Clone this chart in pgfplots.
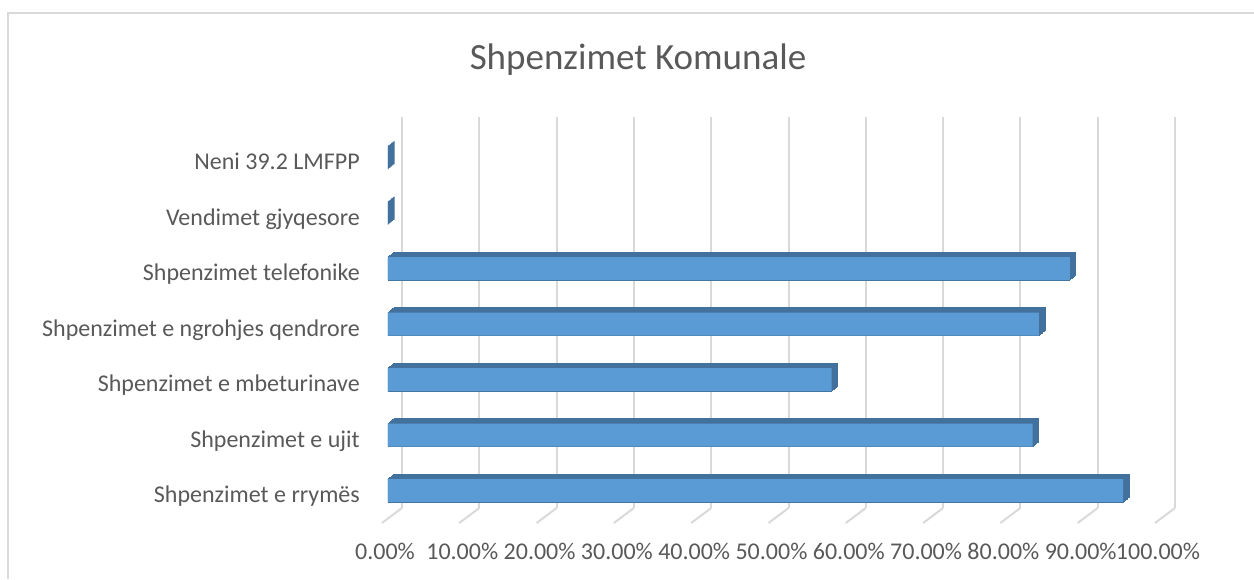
\documentclass[border=0pt]{standalone}
\usepackage{pgfplots}
\pgfplotsset{compat=1.18}
\usepackage{pgfplotstable}
\usepackage{fontspec}
\setmainfont{Carlito}
\definecolor{barfront}{HTML}{5B9BD5}
\definecolor{bardepth}{HTML}{41719C}
\definecolor{gridc}{HTML}{D9D9D9}
\definecolor{txt}{HTML}{595959}

\pgfplotstableread{
pos value
0 95.1
1 83.4
2 57.4
3 84.2
4 88.2
5 0
6 0
}\datatable

\begin{document}
\begin{tikzpicture}[x=1pt,y=1pt]
\path[use as bounding box] (0,0) rectangle (1254,579);
\draw[gridc, line width=2pt] (8,0) -- (8,566) -- (1254,566);
\node[font=\fontsize{37}{44}\selectfont, text=txt, anchor=base] at (638,509) {Shpenzimet Komunale};
\begin{axis}[
  at={(388pt,60.5pt)}, anchor=south west,
  scale only axis, width=773pt, height=391pt,
  xmin=0, xmax=100, ymin=-0.5045, ymax=6.541,
  axis line style={draw=none}, tick style={draw=none},
  xtick={0,10,...,100},
  xticklabels={0.00\%,10.00\%,20.00\%,30.00\%,40.00\%,50.00\%,60.00\%,70.00\%,80.00\%,90.00\%,100.00\%},
  xticklabel style={anchor=center, xshift=-3pt, yshift=-32.5pt, inner sep=0pt},
  ytick={0,...,6},
  yticklabels={Shpenzimet e rrymës, Shpenzimet e ujit, Shpenzimet e mbeturinave, Shpenzimet e ngrohjes qendrore, Shpenzimet telefonike, Vendimet gjyqesore, Neni 39.2 LMFPP},
  yticklabel style={anchor=base east, inner sep=0pt, xshift=-28pt, yshift=-12pt},
  ticklabel style={font=\fontsize{24}{28}\selectfont, text=txt},
  xmajorgrids, ymajorgrids=false,
  major grid style={gridc, line width=2pt, xshift=14pt, yshift=10.5pt},
  clip=false,
]
\pgfplotsinvokeforeach{0,10,...,100}{
  \draw[gridc, line width=2pt] ([xshift=14pt,yshift=10.5pt]axis cs:#1,-0.5045) -- ([xshift=-6pt,yshift=-4.5pt]axis cs:#1,-0.5045);
}
\pgfplotsinvokeforeach{0,...,8}{
  \addplot[xbar, bar width=23pt, bar shift=0pt, fill=bardepth, draw=bardepth, line width=0.6pt,
    xshift=0.75pt*#1, yshift=0.625pt*#1, forget plot] table[x=value,y=pos]{\datatable};
}
\addplot[xbar, bar width=23pt, bar shift=0pt, fill=barfront, draw=none] table[x=value,y=pos]{\datatable};
\end{axis}
\end{tikzpicture}
\end{document}
